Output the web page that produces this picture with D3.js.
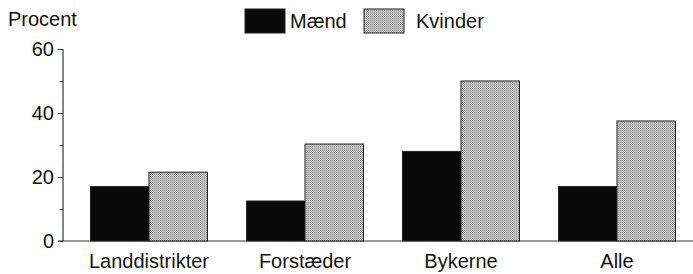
<!DOCTYPE html>
<html><head><meta charset="utf-8">
<script src="https://cdn.jsdelivr.net/npm/d3@7"></script>
<style>body{margin:0;background:#fff}svg{display:block}text{font-family:"Liberation Sans",Arial,sans-serif;fill:#111}</style>
</head><body><svg id="c" width="693" height="274"></svg>
<script>
const categories = ["Landdistrikter","Forstæder","Bykerne","Alle"];
const series = ["Mænd","Kvinder"];
const maend = [17, 12.5, 28, 17];
const kvinder = [21.5, 30.3, 50, 37.5];
const yTicks = [0, 20, 40, 60];
const yMinor = [10, 30, 50];

const svg = d3.select("#c");
const defs = svg.append("defs");
const pat = defs.append("pattern").attr("id","stip").attr("width",2).attr("height",2).attr("patternUnits","userSpaceOnUse");
pat.append("rect").attr("width",2).attr("height",2).attr("fill","#d2d2d2");
pat.append("rect").attr("width",1).attr("height",1).attr("fill","#8c8c8c");
pat.append("rect").attr("x",1).attr("y",1).attr("width",1).attr("height",1).attr("fill","#a8a8a8");
const colors = {"Mænd":"#0a0a0a","Kvinder":"url(#stip)"};

const y = d3.scaleLinear().domain([0,60]).range([241,49]);
const x = d3.scaleBand().domain(categories).range([71,695]).padding(0);
const barW = 58.5;

const yAxis = d3.axisLeft(y).tickValues(yTicks).tickSize(5).tickPadding(4);
const gy = svg.append("g").attr("transform","translate(63,0)").call(yAxis);
gy.select(".domain").attr("d","M0,49V241").attr("stroke","#333").attr("stroke-width",1.2);
gy.selectAll(".tick line").attr("stroke","#333");
gy.selectAll(".tick text").style("font-size","20px").attr("fill","#111");
svg.append("g").attr("transform","translate(63,0)").call(d3.axisLeft(y).tickValues(yMinor).tickSize(3).tickFormat(""))
  .call(g=>{g.select(".domain").remove();g.selectAll("line").attr("stroke","#333");});

svg.append("line").attr("x1",58).attr("x2",693).attr("y1",y(0)).attr("y2",y(0)).attr("stroke","#333").attr("stroke-width",1.2);

const data = categories.map((c,i)=>({c, vals:[{s:"Mænd",v:maend[i]},{s:"Kvinder",v:kvinder[i]}]}));
const g = svg.append("g");
data.forEach(d=>{
  const cx = x(d.c)+x.bandwidth()/2;
  d.vals.forEach((e,j)=>{
    const x0 = cx + (j-1)*barW;
    g.append("rect").attr("x",x0).attr("y",y(e.v)).attr("width",barW).attr("height",y(0)-y(e.v))
      .attr("fill",colors[e.s]).attr("stroke","#222").attr("stroke-width",1);
  });
  svg.append("text").attr("x",cx).attr("y",268).attr("text-anchor","middle").style("font-size","20px").text(d.c);
});

svg.append("text").attr("x",8).attr("y",26).style("font-size","20px").text("Procent");

const leg = [{s:"Mænd",x:245,tx:290},{s:"Kvinder",x:364,tx:416}];
leg.forEach(l=>{
  svg.append("rect").attr("x",l.x).attr("y",9).attr("width",40).attr("height",24).attr("fill",colors[l.s]).attr("stroke","#222");
  svg.append("text").attr("x",l.tx).attr("y",28).style("font-size","20px").text(l.s);
});
</script></body></html>
